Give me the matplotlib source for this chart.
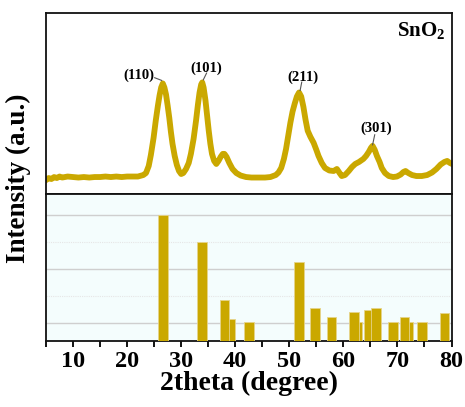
import matplotlib.pyplot as plt
import numpy as np

plt.rcParams['font.family'] = 'Liberation Serif'
plt.rcParams['font.weight'] = 'bold'
plt.rcParams['mathtext.fontset'] = 'custom'
plt.rcParams['mathtext.rm'] = 'Liberation Serif:bold'
plt.rcParams['mathtext.it'] = 'Liberation Serif:bold'

gold = '#CAA800'

# measured XRD pattern (2theta, intensity in a.u.)
two_theta = [5.0, 5.5, 6.0, 6.5, 7.0, 7.5, 8.0, 9.0, 10.0, 11.0,
             12.0, 13.0, 14.0, 15.0, 16.0, 17.0, 18.0, 19.0, 20.0, 21.0,
             22.0, 23.0, 23.5, 24.0, 24.4, 24.9, 25.3, 25.7, 26.0, 26.3,
             26.6, 26.9, 27.2, 27.5, 27.8, 28.1, 28.4, 28.8, 29.2, 29.6,
             30.0, 30.4, 30.9, 31.4, 31.8, 32.3, 32.75, 33.1, 33.4, 33.7,
             33.9, 34.15, 34.5, 34.8, 35.1, 35.4, 35.7, 36.1, 36.5, 36.9,
             37.3, 37.7, 38.0, 38.4, 38.9, 39.5, 40.2, 41.0, 42.0, 43.0,
             44.0, 45.5, 46.5, 47.5, 48.0, 48.5, 49.0, 49.4, 49.8, 50.2,
             50.6, 51.0, 51.4, 51.8, 52.2, 52.6, 53.0, 53.4, 53.9, 54.5,
             55.0, 55.4, 56.0, 56.6, 57.4, 58.2, 58.8, 59.3, 59.7, 60.3,
             61.0, 61.6, 62.2, 62.9, 63.7, 64.2, 64.7, 65.1, 65.4, 65.8,
             66.2, 66.7, 67.1, 67.7, 68.4, 69.2, 69.9, 70.6, 71.1, 71.5,
             72.0, 72.7, 73.5, 74.5, 75.5, 76.4, 77.2, 78.0, 78.7, 79.2,
             79.7, 80.1]
intensity = [14, 16, 15, 17, 16, 17.5, 16.5, 17.5, 17, 16.5,
             17, 16.5, 17, 17, 17.5, 17, 17.5, 17, 17.5, 17.5,
             17.5, 19, 21, 28, 39, 56, 73, 88, 98, 106,
             110, 106, 99, 88, 76, 62, 50, 38, 29, 23,
             20, 21, 25, 31, 40, 55, 73, 89, 101, 109,
             111, 106, 93, 78, 63, 50, 40, 33, 30, 33,
             37, 40, 40, 37, 31, 25, 21, 18.5, 17, 16.5,
             16.5, 16.5, 17, 19, 21.5, 26, 35, 45, 58, 71,
             82, 90, 97, 101, 97, 87, 74, 63, 57, 51,
             44, 38, 31, 26, 23.5, 23, 25, 21, 18, 19,
             23, 27, 30, 32, 35, 38, 42, 46, 48, 44,
             38, 32, 26, 21, 18, 17, 17.5, 19.5, 22, 23,
             21, 19, 18, 18, 19, 21.5, 25, 29.5, 32, 33,
             31, 30]

# reference card (JCPDS 41-1445) positions and relative intensities
ref_pos = [26.6, 33.9, 38.0, 39.0, 42.6, 51.8, 54.8, 57.8, 61.9, 62.6,
           64.7, 66.0, 69.2, 71.3, 72.0, 74.5, 78.7]
ref_int = [100, 75, 21, 4, 1, 57, 14, 6, 10, 1,
           12, 14, 1, 6, 1, 1, 9]

# peak labels: text, text position, leader line start/end
hkl = ['(110)', '(101)', '(211)', '(301)']
hkl_xy = [(22.2, 118), (34.7, 125.5), (52.6, 116), (66.0, 65.5)]
hkl_line = [((25.1, 115.7), (26.4, 113)), ((34.7, 120.3), (34.1, 113.7)),
            ((52.3, 111.3), (52.0, 103)), ((65.8, 59), (65.4, 49))]

fig = plt.figure(figsize=(4.65, 4.07), dpi=100)
ax1 = fig.add_axes([0.0989, 0.523, 0.8721, 0.445])
ax2 = fig.add_axes([0.0989, 0.162, 0.8721, 0.361], sharex=ax1)

ax1.plot(two_theta, intensity, color=gold, lw=4.2, solid_joinstyle='round')
ax1.set_xlim(5, 80)
ax1.set_ylim(0, 180)
ax1.tick_params(axis='both', which='both', bottom=False, left=False,
                labelbottom=False, labelleft=False)
for lab, (tx, ty), (p0, p1) in zip(hkl, hkl_xy, hkl_line):
    ax1.text(tx, ty, lab, ha='center', va='center', fontsize=10.5, fontweight='bold')
    ax1.plot([p0[0], p1[0]], [p0[1], p1[1]], color='#555555', lw=0.8)
ax1.text(0.985, 0.905, r'SnO$_2$', transform=ax1.transAxes, ha='right', va='center',
         fontsize=15, fontweight='bold')

ymin = -16.7
ax2.set_facecolor('#F4FDFD')
order = np.argsort(ref_int)
for i in order:
    ax2.bar(ref_pos[i], ref_int[i] - ymin, bottom=ymin, width=1.8, color=gold,
            edgecolor='#E6D48A', linewidth=0.6, zorder=3)
ax2.set_ylim(ymin, 119.4)
for g in [0, 50, 100]:
    ax2.axhline(g, color='#CFCFCF', lw=1.0, zorder=1)
for g in [25, 75]:
    ax2.axhline(g, color='#E6E6E6', lw=0.8, ls=(0, (1, 1)), zorder=1)
ax2.set_yticks([])
ax2.set_xticks(np.arange(10, 81, 10))
ax2.set_xticks(np.arange(5, 81, 5), minor=True)
ax2.tick_params(axis='x', which='both', direction='out', length=4, width=1.3,
                labelsize=17.5, pad=3)
ax2.set_xlabel('2theta (degree)', fontsize=20, fontweight='bold', labelpad=-1)

for ax in (ax1, ax2):
    for s in ax.spines.values():
        s.set_linewidth(1.3)
        s.set_color('#111111')

fig.text(0.039, 0.563, 'Intensity (a.u.)', rotation=90, ha='center', va='center',
         fontsize=19.5, fontweight='bold')

fig.savefig('out.png', dpi=100)
